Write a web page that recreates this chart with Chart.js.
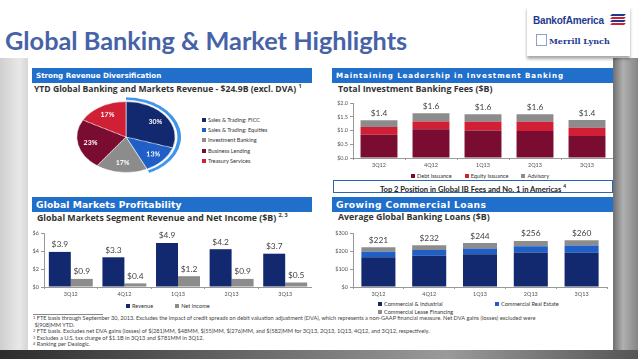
<!DOCTYPE html>
<html>
<head>
<meta charset="utf-8">
<script src="https://cdn.jsdelivr.net/npm/chart.js@4.4.0/dist/chart.umd.min.js"></script>
<style>
  html, body { margin: 0; padding: 0; }
  body {
    width: 638px; height: 359px; position: relative; overflow: hidden;
    background: #fff; font-family: 'Lato', sans-serif; color: #333;
  }
  .abs { position: absolute; }
  .bgL { left: 0; top: 58px; width: 28px; height: 301px;
    background: linear-gradient(90deg, #cfcfcf, #e8e8e8 70%, #d6d6d6); }
  .bgR { left: 613px; top: 58px; width: 25px; height: 301px;
    background: linear-gradient(90deg, #6f6f6f, #b0b0b0 40%, #858585); }
  .bgB { left: 0; top: 350px; width: 638px; height: 9px;
    background: linear-gradient(90deg, #2c2c2c, #6a6a6a 40%, #9a9a9a 70%, #555); }
  .panel { left: 28px; top: 58px; width: 585px; height: 292px; background: #fff; }
  .title { left: 5px; top: 25px; font: bold 25.3px 'Lato', sans-serif; color: #4663a8; white-space: nowrap; }
  .logo { left: 527px; top: 6px; width: 103px; height: 50px; background: #fff;
    box-shadow: 0 3px 3px rgba(0,0,0,.35); }
  .boa { left: 6px; top: 9px; font: bold 10px 'Liberation Sans Narrow', 'Liberation Sans', sans-serif; color: #1d3a8f; letter-spacing: -0.2px; white-space: nowrap; }
  .flag { left: 80px; top: 8px; width: 18px; height: 12px; }
  .flag i { position: absolute; height: 2px; width: 14px; transform: skewX(-40deg); }
  .ml { left: 22px; top: 30px; font: bold 8px 'DejaVu Serif', serif; color: #1d3a8f; white-space: nowrap; }
  .bull { left: 9px; top: 28px; width: 11px; height: 12px; border: 1px solid #8da0c8; box-sizing: border-box; }
  .hdr { height: 15px; background: #1f6fcb; color: #fff; font: bold 7.15px 'DejaVu Sans', sans-serif;
    line-height: 15px; padding-left: 4px; box-sizing: border-box; white-space: nowrap; }
  .hdr.big { font-size: 9.2px; }
  .sub { font: bold 8.8px 'Open Sans', sans-serif; color: #333; white-space: nowrap; }
  .sub sup { font-size: 5.5px; }
  .leg { font: 5.6px 'Lato', sans-serif; color: #333; white-space: nowrap; line-height: 7px; }
  .leg b { display: inline-block; width: 4px; height: 4px; margin-right: 2px; vertical-align: 0px; }
  .box { left: 333px; top: 180px; width: 280px; height: 13px; border: 1.5px solid #2a63b3; box-sizing: border-box;
    font: bold 7.6px 'Lato', sans-serif; color: #222; text-align: center; line-height: 10px; }
  .foot { left: 33px; font: 5.65px 'Lato', sans-serif; color: #444; white-space: nowrap; line-height: 6.6px; }
  .foot sup { font-size: 4px; line-height: 0; vertical-align: 1.5px; }
  .sep { left: 33px; top: 314px; width: 70px; height: 0; border-top: 0.8px solid #888; }
  canvas { display: block; }
</style>
</head>
<body>
<div class="abs bgL"></div>
<div class="abs bgR"></div>
<div class="abs bgB"></div>
<div class="abs panel"></div>

<div class="abs title">Global Banking &amp; Market Highlights</div>
<div class="abs logo">
  <div class="abs boa">BankofAmerica</div>
  <div class="abs flag">
    <i style="left:4px;top:0;background:#1d3a8f"></i>
    <i style="left:4px;top:3px;background:#d3203a"></i>
    <i style="left:4px;top:6px;background:#1d3a8f"></i>
    <i style="left:4px;top:9px;background:#d3203a"></i>
  </div>
  <div class="abs bull"></div>
  <div class="abs ml">Merrill Lynch</div>
</div>

<!-- section headers -->
<div class="abs hdr" style="left:32px;top:68px;width:280px">Strong Revenue Diversification</div>
<div class="abs hdr" style="left:332px;top:68px;width:281px;letter-spacing:0.9px">Maintaining Leadership in Investment Banking</div>
<div class="abs hdr big" style="left:32px;top:197px;width:280px;letter-spacing:0.1px">Global Markets Profitability</div>
<div class="abs hdr big" style="left:332px;top:197px;width:281px;letter-spacing:0.4px">Growing Commercial Loans</div>

<div class="abs sub" style="left:34px;top:82px;font-size:8.6px">YTD Global Banking and Markets Revenue - $24.9B (excl. DVA) <sup>1</sup></div>
<div class="abs sub" style="left:338px;top:83px">Total Investment Banking Fees ($B)</div>
<div class="abs sub" style="left:37px;top:211px">Global Markets Segment Revenue and Net Income ($B) <sup>2, 3</sup></div>
<div class="abs sub" style="left:338px;top:211px">Average Global Banking Loans ($B)</div>

<!-- pie -->
<div class="abs" style="left:71px;top:82px;width:110px;height:110px;transform:scaleY(0.72)">
  <canvas id="pie" width="110" height="110"></canvas>
</div>
<div class="abs leg" id="pieLeg" style="left:202px;top:115px;line-height:10.2px"></div>

<!-- charts -->
<div class="abs" style="left:330px;top:95px;width:283px;height:75px"><canvas id="ib"></canvas></div>
<div class="abs leg" id="ibLeg" style="left:411px;top:172px"></div>
<div class="abs box">Top 2 Position in Global IB Fees and No. 1 in Americas <sup style="font-size:5px">4</sup></div>

<div class="abs" style="left:28px;top:226px;width:284px;height:73px"><canvas id="gm"></canvas></div>
<div class="abs leg" id="gmLeg" style="left:126px;top:302px"></div>

<div class="abs" style="left:330px;top:226px;width:283px;height:73px"><canvas id="loans"></canvas></div>
<div class="abs leg" id="loansLeg" style="left:378px;top:300px;width:200px;line-height:8px"></div>

<!-- footnotes -->
<div class="abs sep"></div>
<div class="abs foot" style="top:315px">
  <sup>1</sup> FTE basis through September 30, 2013. Excludes the impact of credit spreads on debit valuation adjustment (DVA), which represents a non-GAAP financial measure. Net DVA gains (losses) excluded were<br>
  &nbsp;$(908)MM YTD.<br>
  <sup>2</sup> FTE basis. Excludes net DVA gains (losses) of $(281)MM, $48MM, $(55)MM, $(276)MM, and $(582)MM for 3Q13, 2Q13, 1Q13, 4Q12, and 3Q12, respectively.<br>
  <sup>3</sup> Excludes a U.S. tax charge of $1.1B in 3Q13 and $781MM in 3Q12.<br>
  <sup>4</sup> Ranking per Dealogic.
</div>

<script>
// --- data -------------------------------------------------------------
const quarters = ['3Q12', '4Q12', '1Q13', '2Q13', '3Q13'];

const mixLabels = ['Sales & Trading: FICC', 'Sales & Trading: Equities', 'Investment Banking', 'Business Lending', 'Treasury Services'];
const mixValues = [30, 13, 17, 23, 17];

const debtIssuance   = [0.85, 1.05, 1.00, 0.98, 0.80];
const equityIssuance = [0.28, 0.28, 0.32, 0.34, 0.30];
const advisory       = [0.24, 0.30, 0.27, 0.27, 0.28];

const gmRevenue   = [3.9, 3.3, 4.9, 4.2, 3.7];
const gmNetIncome = [0.9, 0.4, 1.2, 0.9, 0.5];

const loansCI    = [165, 173, 182, 191, 190];
const loansCRE   = [31, 32, 32, 35, 40];
const loansLease = [25, 27, 30, 30, 30];

// --- palette ----------------------------------------------------------
const NAVY = '#12286f', BLUE = '#1f5fc6', GRAY = '#8c8c8c', MAROON = '#7b0c31', RED = '#d11f36';
const RING = '#3f95ea';

Chart.defaults.font.family = "'Lato', sans-serif";
Chart.defaults.color = '#555';
Chart.defaults.animation = false;

// labels over bars: either each bar, or the total of a stack
const topLabels = {
  id: 'topLabels',
  afterDatasetsDraw(chart, args, opts) {
    const ctx = chart.ctx;
    ctx.save();
    ctx.font = `${opts.size || 8}px Lato, sans-serif`;
    ctx.fillStyle = '#444';
    ctx.textAlign = 'center';
    ctx.textBaseline = 'bottom';
    const ds = chart.data.datasets;
    if (opts.stack) {
      const top = chart.getDatasetMeta(ds.length - 1);
      top.data.forEach((bar, i) => {
        const sum = ds.reduce((a, d) => a + d.data[i], 0);
        ctx.fillText(opts.fmt(sum), bar.x, bar.y - (opts.gap || 3));
      });
    } else {
      ds.forEach((d, di) => {
        chart.getDatasetMeta(di).data.forEach((bar, i) => {
          ctx.fillText(opts.fmt(d.data[i]), bar.x, bar.y - (opts.gap || 3));
        });
      });
    }
    ctx.restore();
  }
};

// pie slice percentages (canvas is squashed vertically, so undo it for text)
const PIE_SQUASH = 0.72;
const pieLabels = {
  id: 'pieLabels',
  afterDatasetsDraw(chart) {
    const ctx = chart.ctx;
    const meta = chart.getDatasetMeta(2);
    ctx.save();
    ctx.font = 'bold 7px Lato, sans-serif';
    ctx.fillStyle = '#fff';
    ctx.textAlign = 'center';
    ctx.textBaseline = 'middle';
    meta.data.forEach((arc, i) => {
      const p = arc.getProps(['x', 'y', 'startAngle', 'endAngle', 'outerRadius']);
      const mid = (p.startAngle + p.endAngle) / 2;
      const r = p.outerRadius * 0.74;
      ctx.save();
      ctx.translate(p.x + Math.cos(mid) * r, p.y + Math.sin(mid) * r);
      ctx.scale(1, 1 / PIE_SQUASH);
      ctx.fillText(mixValues[i] + '%', 0, 0);
      ctx.restore();
    });
    ctx.restore();
  }
};

function axisCommon(yWidth, fmt, max, step) {
  return {
    x: {
      grid: { display: true, drawOnChartArea: false, drawTicks: true, tickLength: 2, color: '#999', offset: true },
      border: { color: '#999' },
      ticks: { font: { size: 5.5 }, color: '#555', padding: 2 },
      afterFit(s) { s.height = 12; }
    },
    y: {
      min: 0, max,
      grid: { display: true, drawOnChartArea: false, tickLength: 3, color: '#999' },
      border: { color: '#999' },
      ticks: { stepSize: step, font: { size: 5.5 }, color: '#555', padding: 2, callback: fmt },
      afterFit(s) { s.width = yWidth; }
    }
  };
}

function legend(id, items) {
  document.getElementById(id).innerHTML = items.map(([c, t, style]) =>
    `<span style="${style || ''}"><b style="background:${c}"></b>${t}</span>`).join('');
}

// --- pie ---------------------------------------------------------------
// outer blue ring hugs the two Sales & Trading slices
const ringValues = [mixValues[0] + mixValues[1], mixValues.reduce((a, b) => a + b, 0) - mixValues[0] - mixValues[1]];
new Chart(document.getElementById('pie'), {
  type: 'pie',
  data: {
    labels: mixLabels,
    datasets: [
      { data: ringValues, backgroundColor: [RING, 'rgba(0,0,0,0)'], borderWidth: 0, weight: 3.4 },
      { data: ringValues, backgroundColor: ['rgba(0,0,0,0)', 'rgba(0,0,0,0)'], borderWidth: 0, weight: 2.2 },
      { data: mixValues, backgroundColor: [NAVY, BLUE, GRAY, MAROON, RED], borderColor: '#fff', borderWidth: 0.6, weight: 47 }
    ]
  },
  options: {
    responsive: false,
    layout: { padding: 0 },
    plugins: { legend: { display: false }, tooltip: { enabled: false } }
  },
  plugins: [pieLabels]
});
legend('pieLeg', mixLabels.map((t, i) => [[NAVY, BLUE, GRAY, MAROON, RED][i], t, 'display:block']));

// --- investment banking fees -------------------------------------------
new Chart(document.getElementById('ib'), {
  type: 'bar',
  data: {
    labels: quarters,
    datasets: [
      { label: 'Debt Issuance', data: debtIssuance, backgroundColor: MAROON },
      { label: 'Equity Issuance', data: equityIssuance, backgroundColor: RED },
      { label: 'Advisory', data: advisory, backgroundColor: GRAY }
    ]
  },
  options: {
    responsive: true, maintainAspectRatio: false,
    layout: { padding: { top: 8, right: 0, left: 0, bottom: 0 } },
    datasets: { bar: { barPercentage: 0.71, categoryPercentage: 1 } },
    scales: (() => {
      const s = axisCommon(23, v => '$' + v.toFixed(1), 2, 0.5);
      s.x.stacked = true; s.y.stacked = true;
      return s;
    })(),
    plugins: {
      legend: { display: false }, tooltip: { enabled: false },
      topLabels: { stack: true, fmt: v => '$' + v.toFixed(1), size: 8.4, gap: 3 }
    }
  },
  plugins: [topLabels]
});
legend('ibLeg', [[MAROON, 'Debt Issuance', 'margin-right:13px'], [RED, 'Equity Issuance', 'margin-right:13px'], [GRAY, 'Advisory']]);

// --- global markets ----------------------------------------------------
new Chart(document.getElementById('gm'), {
  type: 'bar',
  data: {
    labels: quarters,
    datasets: [
      { label: 'Revenue', data: gmRevenue, backgroundColor: NAVY },
      { label: 'Net Income', data: gmNetIncome, backgroundColor: GRAY }
    ]
  },
  options: {
    responsive: true, maintainAspectRatio: false,
    layout: { padding: { top: 7, right: 0, left: 0, bottom: 0 } },
    datasets: { bar: { barPercentage: 1, categoryPercentage: 0.82 } },
    scales: axisCommon(16, v => '$' + v, 6, 2),
    plugins: {
      legend: { display: false }, tooltip: { enabled: false },
      topLabels: { fmt: v => '$' + v.toFixed(1), size: 8.4, gap: 3 }
    }
  },
  plugins: [topLabels]
});
legend('gmLeg', [[NAVY, 'Revenue', 'margin-right:22px'], [GRAY, 'Net Income']]);

// --- loans ---------------------------------------------------------------
new Chart(document.getElementById('loans'), {
  type: 'bar',
  data: {
    labels: quarters,
    datasets: [
      { label: 'Commercial & Industrial', data: loansCI, backgroundColor: NAVY },
      { label: 'Commercial Real Estate', data: loansCRE, backgroundColor: BLUE },
      { label: 'Commercial Lease Financing', data: loansLease, backgroundColor: GRAY }
    ]
  },
  options: {
    responsive: true, maintainAspectRatio: false,
    layout: { padding: { top: 7, right: 6, left: 0, bottom: 0 } },
    datasets: { bar: { barPercentage: 0.67, categoryPercentage: 1 } },
    scales: (() => {
      const s = axisCommon(23, v => '$' + v, 300, 100);
      s.x.stacked = true; s.y.stacked = true;
      return s;
    })(),
    plugins: {
      legend: { display: false }, tooltip: { enabled: false },
      topLabels: { stack: true, fmt: v => '$' + Math.round(v), size: 8.4, gap: 3 }
    }
  },
  plugins: [topLabels]
});
legend('loansLeg', [[NAVY, 'Commercial &amp; Industrial', 'display:inline-block;width:117px'], [BLUE, 'Commercial Real Estate', 'display:inline-block'], [GRAY, 'Commercial Lease Financing', 'display:block']]);
</script>
</body>
</html>
